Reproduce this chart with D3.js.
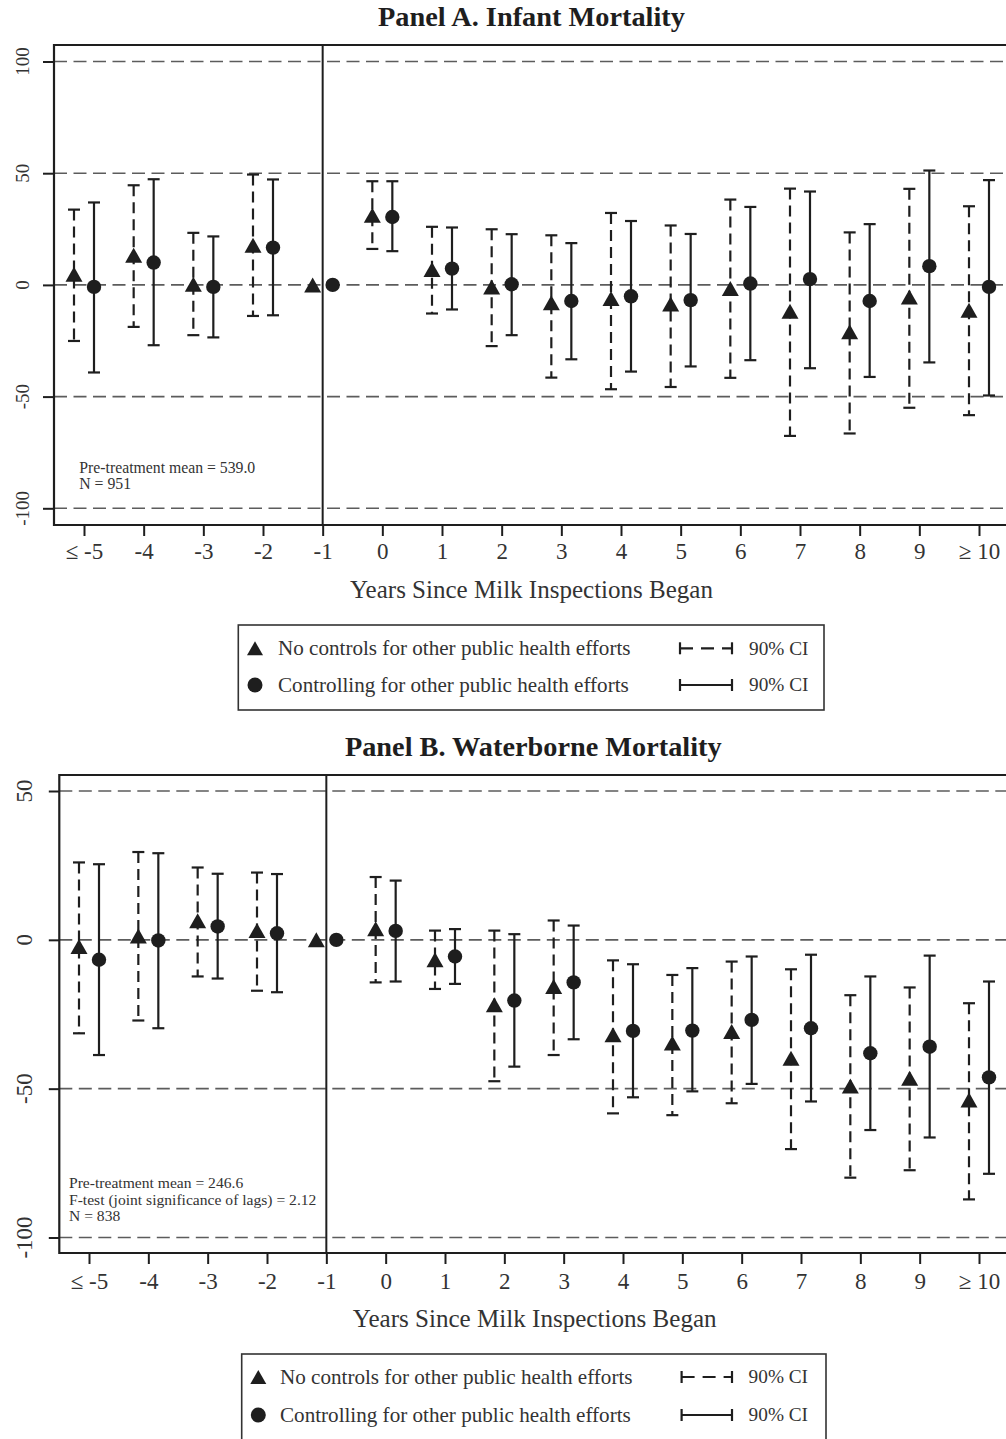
<!DOCTYPE html>
<html>
<head>
<meta charset="utf-8">
<script src="https://cdn.jsdelivr.net/npm/d3@7"></script>
<style>
  body { margin: 0; background: #fff; }
  svg { display: block; font-family: "Liberation Serif", "Times New Roman", serif; }
</style>
</head>
<body>
<svg id="chart" width="1006" height="1439"></svg>
<script>
// ============= Data =============
const years = ['\u2264 -5', '-4', '-3', '-2', '-1', '0', '1', '2', '3', '4', '5', '6', '7', '8', '9', '\u2265 10'];

// Panel A: infant mortality
const infantNoCtrl   = [4.8, 13.3, 0.3, 17.8, 0, 31.2, 6.9, -0.9, -8.0, -6.1, -8.6, -1.6, -11.8, -21.0, -5.4, -11.3];
const infantNoCtrlLo = [-25.1, -18.8, -22.5, -13.9, null, 16.1, -12.8, -27.4, -41.5, -46.7, -45.7, -41.6, -67.6, -66.5, -55.0, -58.3];
const infantNoCtrlHi = [33.7, 44.6, 23.3, 49.4, null, 46.4, 26.0, 24.9, 22.2, 32.2, 26.6, 38.2, 43.1, 23.5, 43.0, 35.2];
const infantCtrl     = [-0.9, 10.0, -0.9, 16.7, 0, 30.4, 7.3, 0.3, -7.2, -5.1, -6.8, 0.6, 2.6, -7.2, 8.4, -0.9];
const infantCtrlLo   = [-39.2, -27.0, -23.5, -13.6, null, 15.1, -11.0, -22.5, -33.3, -38.8, -36.5, -33.7, -37.3, -41.2, -34.7, -49.5];
const infantCtrlHi   = [36.9, 47.3, 21.7, 47.2, null, 46.4, 25.7, 22.7, 18.7, 28.6, 22.8, 34.9, 41.8, 27.2, 51.2, 46.9];

// Panel B: waterborne mortality
const waterNoCtrl   = [-2.2, 1.3, 6.4, 3.1, 0, 3.7, -6.7, -21.8, -15.7, -31.9, -34.7, -30.8, -39.8, -49.1, -46.5, -53.8];
const waterNoCtrlLo = [-31.4, -27.1, -12.3, -17.1, null, -14.3, -16.5, -47.5, -38.7, -58.3, -58.9, -54.9, -70.3, -79.9, -77.4, -87.2];
const waterNoCtrlHi = [26.0, 29.5, 24.3, 22.6, null, 21.1, 3.1, 3.1, 6.5, -6.9, -11.8, -7.3, -9.9, -18.6, -16.0, -21.3];
const waterCtrl     = [-6.7, -0.2, 4.5, 2.2, 0, 3.0, -5.6, -20.4, -14.3, -30.6, -30.5, -26.9, -29.7, -38.1, -35.9, -46.2];
const waterCtrlLo   = [-38.7, -29.7, -13.0, -17.6, null, -14.0, -14.8, -42.6, -33.4, -52.9, -50.9, -48.4, -54.3, -63.9, -66.4, -78.6];
const waterCtrlHi   = [25.4, 29.1, 22.2, 22.1, null, 19.9, 3.6, 1.9, 4.8, -8.2, -9.5, -5.6, -5.0, -12.3, -5.3, -14.0];

const infantTicks = [-100, -50, 0, 50, 100];
const waterTicks = [-100, -50, 0, 50];

const legendLabels = ['No controls for other public health efforts', 'Controlling for other public health efforts'];

// ============= Helpers =============
const ink = '#1e1e1e';
const svg = d3.select('#chart');

// scale a text's font-size so that it spans the given width
function fitWidth(sel, w){
  sel.each(function(){
    const len = this.getComputedTextLength();
    const fs = parseFloat(this.getAttribute('font-size'));
    if(len > 0) this.setAttribute('font-size', (fs * w / len).toFixed(2));
  });
}

function triPath(cx, cy, w, h){
  return 'M' + (cx - w/2) + ',' + (cy + h/2) + 'L' + cx + ',' + (cy - h/2) + 'L' + (cx + w/2) + ',' + (cy + h/2) + 'Z';
}

// ============= Panel =============
function drawPanel(cfg){
  const g = svg.append('g');
  const x = d3.scaleLinear().domain([0, years.length - 1]).range(cfg.xRange);
  const y = d3.scaleLinear().domain(cfg.yDomain).range(cfg.yRange);

  // title
  g.append('text')
    .attr('x', cfg.titleX).attr('y', cfg.titleY)
    .attr('text-anchor', 'middle')
    .attr('font-weight', 'bold')
    .attr('font-size', 24)
    .attr('fill', ink)
    .text(cfg.title)
    .call(fitWidth, cfg.titleW);

  // dashed gridlines
  g.append('g').selectAll('line')
    .data(cfg.yTicks)
    .join('line')
      .attr('x1', cfg.left).attr('x2', cfg.right)
      .attr('y1', d => y(d)).attr('y2', d => y(d))
      .attr('stroke', '#5c5c5c')
      .attr('stroke-width', 1.6)
      .attr('stroke-dasharray', '13,6.5');

  // y axis ticks
  const yAxis = g.append('g')
    .attr('transform', 'translate(' + cfg.left + ',0)')
    .call(d3.axisLeft(y).tickValues(cfg.yTicks).tickSize(cfg.yTickLen).tickFormat(''));
  yAxis.select('.domain').remove();
  yAxis.selectAll('line').attr('stroke', ink).attr('stroke-width', 2);

  // rotated y labels
  g.append('g').selectAll('text')
    .data(cfg.yTicks)
    .join('text')
      .attr('transform', d => 'translate(' + cfg.yLabelX + ',' + y(d) + ') rotate(-90)')
      .attr('text-anchor', 'middle')
      .attr('font-size', cfg.yLabelSize)
      .attr('fill', '#333')
      .text(d => d);

  // x axis
  const xAxis = g.append('g')
    .attr('transform', 'translate(0,' + cfg.bottom + ')')
    .call(d3.axisBottom(x).tickValues(d3.range(years.length)).tickSize(11).tickFormat(i => years[i]));
  xAxis.select('.domain').remove();
  xAxis.selectAll('line').attr('stroke', ink).attr('stroke-width', 2);
  xAxis.selectAll('text')
    .attr('y', cfg.tickLabelY - cfg.bottom)
    .attr('dy', 0)
    .attr('font-size', 23)
    .attr('font-family', '"Liberation Serif", serif')
    .attr('fill', '#333');

  // frame: left, top, bottom
  g.append('path')
    .attr('d', 'M' + cfg.right + ',' + cfg.top + 'H' + cfg.left + 'V' + cfg.bottom + 'H' + cfg.right)
    .attr('fill', 'none')
    .attr('stroke', ink)
    .attr('stroke-width', 2.2);

  // vertical reference line at -1
  g.append('line')
    .attr('x1', x(4)).attr('x2', x(4))
    .attr('y1', cfg.top).attr('y2', cfg.bottom)
    .attr('stroke', ink)
    .attr('stroke-width', 2);

  // x title
  g.append('text')
    .attr('x', cfg.xTitleX).attr('y', cfg.xTitleY)
    .attr('text-anchor', 'middle')
    .attr('font-size', 24)
    .attr('fill', '#333')
    .text('Years Since Milk Inspections Began')
    .call(fitWidth, cfg.xTitleW);

  // annotation
  const notes = g.append('g').selectAll('text')
    .data(cfg.notes)
    .join('text')
      .attr('x', cfg.noteX)
      .attr('y', (d, i) => cfg.noteY + i*cfg.noteLH)
      .attr('font-size', 15)
      .attr('fill', '#333')
      .text(d => d);
  notes.filter((d, i) => i === 0).call(fitWidth, cfg.noteW);
  notes.attr('font-size', notes.filter((d, i) => i === 0).attr('font-size'));

  // ------------ Estimates ------------
  const series = [
    {est: cfg.noCtrl, lo: cfg.noCtrlLo, hi: cfg.noCtrlHi, off: -10, dash: '11,6', shape: 'tri'},
    {est: cfg.ctrl, lo: cfg.ctrlLo, hi: cfg.ctrlHi, off: 10, dash: null, shape: 'circle'}
  ];
  const capW = 12;

  series.forEach(s => {
    const pts = s.est.map((v, i) => ({i: i, v: v, lo: s.lo[i], hi: s.hi[i]}));
    const bars = pts.filter(d => d.lo !== null);
    const eg = g.append('g').attr('stroke', ink).attr('stroke-width', 2.2).attr('fill', 'none');

    eg.selectAll('.ci')
      .data(bars)
      .join('line')
        .attr('class', 'ci')
        .attr('x1', d => x(d.i) + s.off).attr('x2', d => x(d.i) + s.off)
        .attr('y1', d => y(d.hi)).attr('y2', d => y(d.lo))
        .attr('stroke-dasharray', s.dash);

    eg.selectAll('.cap')
      .data(bars.flatMap(d => [{i: d.i, v: d.hi}, {i: d.i, v: d.lo}]))
      .join('line')
        .attr('class', 'cap')
        .attr('x1', d => x(d.i) + s.off - capW/2).attr('x2', d => x(d.i) + s.off + capW/2)
        .attr('y1', d => y(d.v)).attr('y2', d => y(d.v));

    if(s.shape === 'tri'){
      g.append('g').selectAll('path')
        .data(pts)
        .join('path')
          .attr('d', d => triPath(x(d.i) + s.off, y(d.v), 17, 15))
          .attr('fill', ink);
    } else {
      g.append('g').selectAll('circle')
        .data(pts)
        .join('circle')
          .attr('cx', d => x(d.i) + s.off)
          .attr('cy', d => y(d.v))
          .attr('r', 7.2)
          .attr('fill', ink);
    }
  });

  // ------------ Legend ------------
  const L = cfg.legend;
  const lg = g.append('g');
  lg.append('rect')
    .attr('x', L.x).attr('y', L.y)
    .attr('width', L.w).attr('height', L.h)
    .attr('fill', '#fff')
    .attr('stroke', '#333')
    .attr('stroke-width', 1.6);

  lg.append('path')
    .attr('d', triPath(L.markX, L.rows[0], 16, 14))
    .attr('fill', ink);
  lg.append('circle')
    .attr('cx', L.markX).attr('cy', L.rows[1])
    .attr('r', 7.5)
    .attr('fill', ink);

  const labs = lg.selectAll('.lab')
    .data(legendLabels)
    .join('text')
      .attr('class', 'lab')
      .attr('x', L.textX)
      .attr('y', (d, i) => L.rows[i])
      .attr('dy', '0.33em')
      .attr('font-size', 20)
      .attr('fill', '#333')
      .text(d => d);
  labs.filter((d, i) => i === 0).call(fitWidth, L.textW);
  labs.attr('font-size', labs.filter((d, i) => i === 0).attr('font-size'));

  // CI samples
  L.rows.forEach((yy, i) => {
    const sg = lg.append('g').attr('stroke', ink).attr('stroke-width', 2.2);
    sg.append('line')
      .attr('x1', L.ciX1).attr('x2', L.ciX2)
      .attr('y1', yy).attr('y2', yy)
      .attr('stroke-dasharray', i === 0 ? '13,8' : null);
    sg.append('line')
      .attr('x1', L.ciX1).attr('x2', L.ciX1)
      .attr('y1', yy - 6).attr('y2', yy + 6);
    sg.append('line')
      .attr('x1', L.ciX2).attr('x2', L.ciX2)
      .attr('y1', yy - 6).attr('y2', yy + 6);
    lg.append('text')
      .attr('x', L.ciTextX)
      .attr('y', yy)
      .attr('dy', '0.33em')
      .attr('font-size', 20)
      .attr('fill', '#333')
      .text('90% CI')
      .call(fitWidth, 59.5);
  });
}

// ============= Draw =============
drawPanel({
  title: 'Panel A. Infant Mortality', titleX: 531.5, titleY: 26, titleW: 307,
  top: 45, bottom: 525, left: 54, right: 1012,
  xRange: [84, 979], yDomain: [-100, 100], yRange: [508.3, 61.5],
  yTicks: infantTicks, yTickLen: 11, yLabelX: 28.5, yLabelSize: 19,
  tickLabelY: 559, xTitleX: 531.5, xTitleY: 598, xTitleW: 363,
  notes: ['Pre-treatment mean = 539.0', 'N = 951'], noteX: 79.3, noteY: 473.3, noteLH: 16, noteW: 176,
  noCtrl: infantNoCtrl, noCtrlLo: infantNoCtrlLo, noCtrlHi: infantNoCtrlHi,
  ctrl: infantCtrl, ctrlLo: infantCtrlLo, ctrlHi: infantCtrlHi,
  legend: {x: 238.3, y: 625, w: 585.7, h: 85, rows: [648.3, 685], markX: 255, textX: 278, textW: 352.5,
           ciX1: 680, ciX2: 732, ciTextX: 749}
});

drawPanel({
  title: 'Panel B. Waterborne Mortality', titleX: 533.3, titleY: 756, titleW: 376.7,
  top: 775, bottom: 1253, left: 59.3, right: 1012,
  xRange: [89, 979], yDomain: [-100, 50], yRange: [1237.5, 791],
  yTicks: waterTicks, yTickLen: 10.5, yLabelX: 32, yLabelSize: 23,
  tickLabelY: 1289, xTitleX: 534.7, xTitleY: 1327, xTitleW: 364,
  notes: ['Pre-treatment mean = 246.6', 'F-test (joint significance of lags) = 2.12', 'N = 838'],
  noteX: 69, noteY: 1188.3, noteLH: 16.2, noteW: 174.3,
  noCtrl: waterNoCtrl, noCtrlLo: waterNoCtrlLo, noCtrlHi: waterNoCtrlHi,
  ctrl: waterCtrl, ctrlLo: waterCtrlLo, ctrlHi: waterCtrlHi,
  legend: {x: 241.7, y: 1354, w: 584.3, h: 95, rows: [1377, 1415], markX: 258.3, textX: 280, textW: 352.5,
           ciX1: 681.6, ciX2: 732, ciTextX: 748.6}
});
</script>
</body>
</html>
